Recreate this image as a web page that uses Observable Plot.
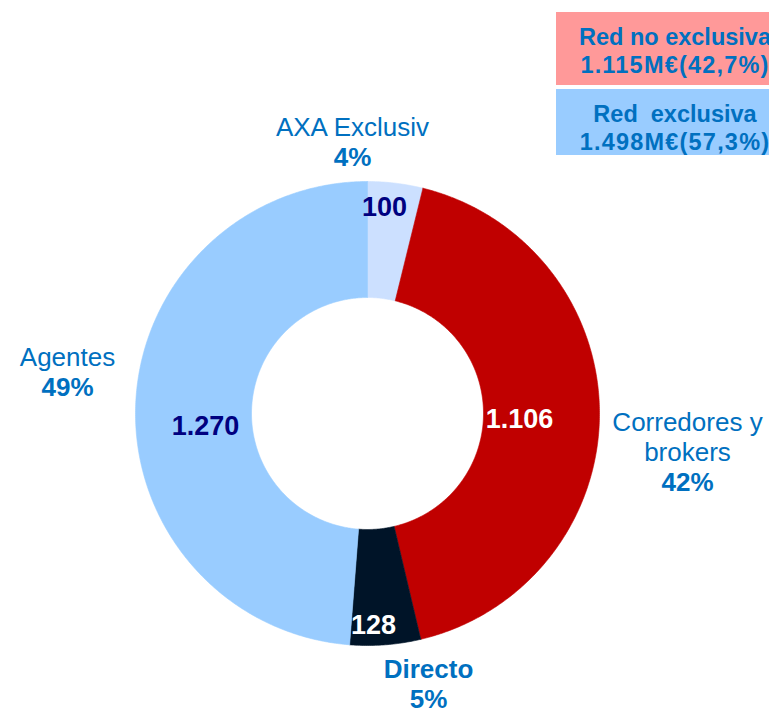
<!DOCTYPE html>
<html>
<head>
<meta charset="utf-8">
<script src="https://cdn.jsdelivr.net/npm/d3@7"></script>
<script src="https://cdn.jsdelivr.net/npm/@observablehq/plot@0.6"></script>
<style>
  html, body { margin: 0; padding: 0; background: #fff; }
  #wrap { position: relative; width: 769px; height: 708px; overflow: hidden; font-family: "Liberation Sans", Arial, sans-serif; }
  #chart { position: absolute; left: 0; top: 0; }
  .lg { position: absolute; left: 556px; width: 238px; box-sizing: border-box; padding-top: 11px;
        color: #0070c0; font-weight: bold; font-size: 23.5px; line-height: 28px; text-align: center; white-space: pre; }
  .lg .num { letter-spacing: 1.2px; }
</style>
</head>
<body>
<div id="wrap">
  <div id="chart"></div>
</div>
<script>
// ---- data ----
const categories = ["AXA Exclusiv", "Corredores y brokers", "Directo", "Agentes"];
const values = [100, 1106, 128, 1270];
const valueLabels = ["100", "1.106", "128", "1.270"];
const pctLabels = ["4%", "42%", "5%", "49%"];
const nameLines = [["AXA Exclusiv"], ["Corredores y", "brokers"], ["Directo"], ["Agentes"]];
const legendTitles = ["Red no exclusiva", "Red  exclusiva"];
const legendValues = ["1.115M€(42,7%)", "1.498M€(57,3%)"];

// ---- styles / layout ----
const sliceColors = ["#cce0ff", "#c00000", "#001428", "#99ccff"];
const valueColors = ["#000080", "#ffffff", "#ffffff", "#000080"];
const nameBold = [false, false, true, false];
const legendColors = ["#ff9999", "#99ccff"];
const legendTops = [12, 89];
const legendHeights = [73, 66];
const W = 769, H = 708;
const cx = 367, cy = 413, rOuter = 232, rInner = 116;
const labelAt = [[352, 135], [687, 430], [428, 677], [67, 365]]; // first-line baseline
const valueAt = [[384, 215], [519, 427], [373, 633], [205, 434]];
const lineH = 30;
const font = "Liberation Sans, Arial, sans-serif";

// ---- slices from data ----
const pie = d3.pie().sort(null).startAngle(0).endAngle(2 * Math.PI)(values);
function ringPoints(a0, a1) {
  const n = Math.max(4, Math.ceil((a1 - a0) / (Math.PI / 360)));
  const pts = [];
  for (let i = 0; i <= n; i++) {
    const a = a0 + (a1 - a0) * i / n;
    pts.push({x: cx + rOuter * Math.sin(a), y: cy - rOuter * Math.cos(a)});
  }
  for (let i = n; i >= 0; i--) {
    const a = a0 + (a1 - a0) * i / n;
    pts.push({x: cx + rInner * Math.sin(a), y: cy - rInner * Math.cos(a)});
  }
  pts.push(pts[0]);
  return pts;
}
const sliceMarks = pie.map((p, i) =>
  Plot.line(ringPoints(p.startAngle, p.endAngle), {
    x: "x", y: "y", fill: sliceColors[i], stroke: sliceColors[i], strokeWidth: 0.6, curve: "linear"
  })
);

const nameRows = [];
const pctRows = [];
categories.forEach((c, i) => {
  nameLines[i].forEach((t, j) => nameRows.push({t, x: labelAt[i][0], y: labelAt[i][1] + j * lineH, bold: nameBold[i]}));
  pctRows.push({t: pctLabels[i], x: labelAt[i][0], y: labelAt[i][1] + nameLines[i].length * lineH});
});
const valueRows = categories.map((c, i) => ({t: valueLabels[i], x: valueAt[i][0], y: valueAt[i][1], c: valueColors[i]}));

const chart = Plot.plot({
  width: W, height: H, margin: 0,
  x: {domain: [0, W], range: [0, W], axis: null},
  y: {domain: [0, H], range: [0, H], axis: null},
  style: {fontFamily: font, background: "transparent"},
  marks: [
    ...sliceMarks,
    Plot.text(nameRows.filter(d => !d.bold), {x: "x", y: "y", text: "t", fill: "#0070c0", fontSize: 26, lineAnchor: "bottom", fontFamily: font}),
    Plot.text(nameRows.filter(d => d.bold), {x: "x", y: "y", text: "t", fill: "#0070c0", fontSize: 26, fontWeight: "bold", lineAnchor: "bottom", fontFamily: font}),
    Plot.text(pctRows, {x: "x", y: "y", text: "t", fill: "#0070c0", fontSize: 26, fontWeight: "bold", lineAnchor: "bottom", fontFamily: font}),
    Plot.text(valueRows, {x: "x", y: "y", text: "t", fill: d => d.c, fontSize: 27, fontWeight: "bold", lineAnchor: "bottom", fontFamily: font})
  ]
});
document.getElementById("chart").appendChild(chart);

// ---- legend boxes ----
const wrap = document.getElementById("wrap");
legendTitles.forEach((t, i) => {
  const d = document.createElement("div");
  d.className = "lg";
  d.style.top = legendTops[i] + "px";
  d.style.height = legendHeights[i] + "px";
  d.style.background = legendColors[i];
  const a = document.createElement("div"); a.textContent = t;
  const b = document.createElement("div"); b.className = "num"; b.textContent = legendValues[i];
  d.appendChild(a); d.appendChild(b);
  wrap.appendChild(d);
});
</script>
</body>
</html>
